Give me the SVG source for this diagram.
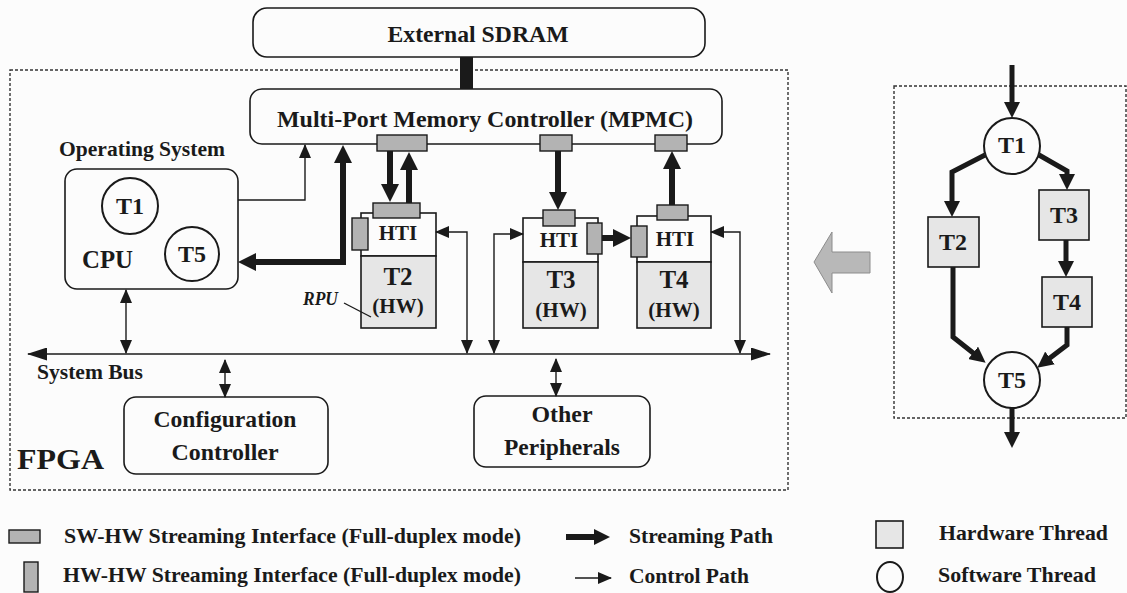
<svg xmlns="http://www.w3.org/2000/svg" width="1127" height="593" viewBox="0 0 1127 593">
<style>
.t{font-family:"Liberation Serif","Times New Roman",serif;font-weight:bold;fill:#1a1a1a}
.box{fill:#fcfcfc;stroke:#1a1a1a;stroke-width:1.6}
.dash{fill:none;stroke:#333;stroke-width:1.4;stroke-dasharray:3 2}
.swi{fill:#b3b3b3;stroke:#1a1a1a;stroke-width:1.4}
.hw{fill:#e6e6e6;stroke:#1a1a1a;stroke-width:1.6}
.hti{fill:#fcfcfc;stroke:#1a1a1a;stroke-width:1.6}
.circ{fill:#fcfcfc;stroke:#1a1a1a;stroke-width:2}
.thin{fill:none;stroke:#1a1a1a;stroke-width:1.4}
.thick{fill:none;stroke:#1a1a1a;stroke-width:6}
.edge{fill:none;stroke:#1a1a1a;stroke-width:5}
</style>
<defs>
<marker id="ah" markerUnits="userSpaceOnUse" markerWidth="14" markerHeight="12" refX="13" refY="6" orient="auto-start-reverse"><path d="M0,0 L14,6 L0,12 z" fill="#1a1a1a"/></marker>
<marker id="ahb" markerUnits="userSpaceOnUse" markerWidth="20" markerHeight="13" refX="19" refY="6.5" orient="auto-start-reverse"><path d="M0,0 L20,6.5 L0,13 z" fill="#1a1a1a"/></marker>
<marker id="sa" markerUnits="userSpaceOnUse" markerWidth="18" markerHeight="18" refX="6" refY="9" orient="auto-start-reverse"><path d="M0,0 L18,9 L0,18 z" fill="#1a1a1a"/></marker>
<marker id="ea" markerUnits="userSpaceOnUse" markerWidth="16" markerHeight="16" refX="5" refY="8" orient="auto-start-reverse"><path d="M0,0 L16,8 L0,16 z" fill="#1a1a1a"/></marker>
</defs>
<rect x="0" y="0" width="1127" height="593" fill="#fcfcfc"/>

<!-- FPGA region -->
<g id="fpga">
<rect class="dash" x="10" y="70" width="778" height="420"/>
<text class="t" x="17" y="469" font-size="30" textLength="87" lengthAdjust="spacingAndGlyphs">FPGA</text>
</g>

<g id="sdram">
<rect class="box" x="253" y="8" width="452" height="49" rx="14"/>
<text class="t" x="478" y="42" font-size="23" text-anchor="middle" textLength="181" lengthAdjust="spacingAndGlyphs">External SDRAM</text>
</g>

<g id="mpmc">
<rect class="box" x="250" y="89" width="472" height="55" rx="12"/>
<text class="t" x="485" y="127" font-size="23.5" text-anchor="middle" textLength="416" lengthAdjust="spacingAndGlyphs">Multi-Port Memory Controller (MPMC)</text>
<rect class="swi" x="377" y="135" width="50" height="16"/>
<rect class="swi" x="540" y="135" width="32" height="16"/>
<rect class="swi" x="655" y="135" width="32" height="16"/>
</g>

<g id="cpu">
<text class="t" x="59" y="156" font-size="21" textLength="166" lengthAdjust="spacingAndGlyphs">Operating System</text>
<rect class="box" x="65" y="169" width="173" height="120" rx="12"/>
<circle class="circ" cx="130" cy="206" r="28"/>
<text class="t" x="130" y="214" font-size="24" text-anchor="middle">T1</text>
<circle class="circ" cx="192" cy="254" r="27"/>
<text class="t" x="192" y="262" font-size="24" text-anchor="middle">T5</text>
<text class="t" x="82" y="268" font-size="25" textLength="51" lengthAdjust="spacingAndGlyphs">CPU</text>
</g>

<g id="t2block">
<rect class="hti" x="361" y="213" width="75" height="43"/>
<rect class="hw" x="361" y="256" width="75" height="72"/>
<rect class="swi" x="373" y="203" width="47" height="15"/>
<rect class="swi" x="352" y="218" width="16" height="32"/>
<text class="t" x="398" y="240" font-size="21" text-anchor="middle">HTI</text>
<text class="t" x="398" y="285" font-size="25" text-anchor="middle">T2</text>
<text class="t" x="398" y="313" font-size="21" text-anchor="middle">(HW)</text>
<text class="t" x="303" y="305" font-size="19" font-style="italic" textLength="35" lengthAdjust="spacingAndGlyphs">RPU</text>
<line class="thin" x1="344" y1="303" x2="371" y2="317"/>
</g>

<g id="t3block">
<rect class="hti" x="523" y="218" width="75" height="44"/>
<rect class="hw" x="523" y="262" width="75" height="66"/>
<rect class="swi" x="543" y="210" width="32" height="16"/>
<rect class="swi" x="587" y="223" width="15" height="31"/>
<text class="t" x="559" y="247" font-size="21" text-anchor="middle">HTI</text>
<text class="t" x="561" y="288" font-size="25" text-anchor="middle">T3</text>
<text class="t" x="561" y="317" font-size="21" text-anchor="middle">(HW)</text>
</g>

<g id="t4block">
<rect class="hti" x="637" y="216" width="74" height="46"/>
<rect class="hw" x="637" y="262" width="74" height="66"/>
<rect class="swi" x="657" y="205" width="31" height="15"/>
<rect class="swi" x="631" y="226" width="16" height="31"/>
<text class="t" x="675" y="246" font-size="21" text-anchor="middle">HTI</text>
<text class="t" x="674" y="288" font-size="25" text-anchor="middle">T4</text>
<text class="t" x="674" y="317" font-size="21" text-anchor="middle">(HW)</text>
</g>

<g id="bus">
<text class="t" x="37" y="379" font-size="20" textLength="106" lengthAdjust="spacingAndGlyphs">System Bus</text>
</g>

<g id="config">
<rect class="box" x="124" y="397" width="204" height="77" rx="12"/>
<text class="t" x="225" y="427" font-size="23" text-anchor="middle" textLength="143" lengthAdjust="spacingAndGlyphs">Configuration</text>
<text class="t" x="225" y="460" font-size="23" text-anchor="middle" textLength="107" lengthAdjust="spacingAndGlyphs">Controller</text>
</g>

<g id="other">
<rect class="box" x="474" y="396" width="176" height="71" rx="12"/>
<text class="t" x="562" y="422" font-size="23" text-anchor="middle" textLength="61" lengthAdjust="spacingAndGlyphs">Other</text>
<text class="t" x="562" y="455" font-size="23" text-anchor="middle" textLength="116" lengthAdjust="spacingAndGlyphs">Peripherals</text>
</g>

<!-- connectors -->
<g id="connectors">
<rect x="460" y="57" width="13" height="32" fill="#1a1a1a"/>
<line class="thin" x1="28" y1="354" x2="770" y2="354" marker-start="url(#ahb)" marker-end="url(#ahb)"/>
<path class="thin" d="M238 200 L305 200 L305 145" marker-end="url(#ah)"/>
<path class="thick" d="M250 262 L343 262 L343 157" marker-start="url(#sa)" marker-end="url(#sa)"/>
<line class="thick" x1="390" y1="151" x2="390" y2="190" marker-end="url(#sa)"/>
<line class="thick" x1="409" y1="203" x2="409" y2="164" marker-end="url(#sa)"/>
<line class="thick" x1="558" y1="151" x2="558" y2="198" marker-end="url(#sa)"/>
<line class="thick" x1="672" y1="205" x2="672" y2="163" marker-end="url(#sa)"/>
<line class="thick" x1="602" y1="238" x2="619" y2="238" marker-end="url(#sa)"/>
<line class="thin" x1="126" y1="290" x2="126" y2="353" marker-start="url(#ah)" marker-end="url(#ah)"/>
<line class="thin" x1="225" y1="360" x2="225" y2="397" marker-start="url(#ah)" marker-end="url(#ah)"/>
<line class="thin" x1="556" y1="359" x2="556" y2="396" marker-start="url(#ah)" marker-end="url(#ah)"/>
<path class="thin" d="M436 232 L467 232 L467 353" marker-start="url(#ah)" marker-end="url(#ah)"/>
<path class="thin" d="M523 234 L494 234 L494 353" marker-start="url(#ah)" marker-end="url(#ah)"/>
<path class="thin" d="M711 232 L740 232 L740 353" marker-start="url(#ah)" marker-end="url(#ah)"/>
</g>

<!-- mapping arrow -->
<g id="maparrow">
<polygon points="814,262 832,232 832,252 870,252 870,273 832,273 832,293" fill="#b8b8b8" stroke="#8c8c8c" stroke-width="1"/>
</g>

<!-- task graph -->
<g id="taskgraph">
<rect class="dash" x="894" y="86" width="232" height="332"/>
</g>
<g id="g-t1">
<circle class="circ" cx="1012" cy="146" r="28"/>
<text class="t" x="1012" y="153" font-size="24" text-anchor="middle">T1</text>
</g>
<g id="g-t2">
<rect class="hw" x="928" y="217" width="51" height="50"/>
<text class="t" x="953" y="250" font-size="24" text-anchor="middle">T2</text>
</g>
<g id="g-t3">
<rect class="hw" x="1039" y="190" width="50" height="50"/>
<text class="t" x="1064" y="223" font-size="24" text-anchor="middle">T3</text>
</g>
<g id="g-t4">
<rect class="hw" x="1042" y="277" width="50" height="50"/>
<text class="t" x="1067" y="310" font-size="24" text-anchor="middle">T4</text>
</g>
<g id="g-t5">
<circle class="circ" cx="1012" cy="380" r="28"/>
<text class="t" x="1012" y="388" font-size="24" text-anchor="middle">T5</text>
</g>
<g id="graph-edges">
<line class="edge" x1="1012" y1="65" x2="1012" y2="107" marker-end="url(#ea)"/>
<path class="edge" d="M985 155 L952 172 L952 206" marker-end="url(#ea)"/>
<path class="edge" d="M1039 155 L1067 171 L1067 179" marker-end="url(#ea)"/>
<line class="edge" x1="1066" y1="240" x2="1066" y2="266" marker-end="url(#ea)"/>
<path class="edge" d="M953 267 L953 337 L977 356" marker-end="url(#ea)"/>
<path class="edge" d="M1067 327 L1067 345 L1046 361" marker-end="url(#ea)"/>
<line class="edge" x1="1012" y1="408" x2="1012" y2="437" marker-end="url(#ea)"/>
</g>

<!-- legend -->
<g id="legend">
<rect class="swi" x="9" y="530" width="31" height="13"/>
<text class="t" x="64" y="543" font-size="21" textLength="457" lengthAdjust="spacingAndGlyphs">SW-HW Streaming Interface (Full-duplex mode)</text>
<rect class="swi" x="24" y="562" width="14" height="30"/>
<text class="t" x="63" y="582" font-size="21" textLength="458" lengthAdjust="spacingAndGlyphs">HW-HW Streaming Interface (Full-duplex mode)</text>
<line x1="566" y1="537" x2="599" y2="537" stroke="#1a1a1a" stroke-width="6" marker-end="url(#ea)"/>
<text class="t" x="629" y="543" font-size="21" textLength="144" lengthAdjust="spacingAndGlyphs">Streaming Path</text>
<line class="thin" x1="575" y1="578" x2="611" y2="578" marker-end="url(#ah)"/>
<text class="t" x="629" y="583" font-size="21" textLength="120" lengthAdjust="spacingAndGlyphs">Control Path</text>
<rect class="hw" x="876" y="521" width="27" height="27"/>
<text class="t" x="939" y="540" font-size="21" textLength="169" lengthAdjust="spacingAndGlyphs">Hardware Thread</text>
<ellipse class="circ" cx="890" cy="577" rx="13" ry="15"/>
<text class="t" x="938" y="582" font-size="21" textLength="158" lengthAdjust="spacingAndGlyphs">Software Thread</text>
</g>
</svg>
